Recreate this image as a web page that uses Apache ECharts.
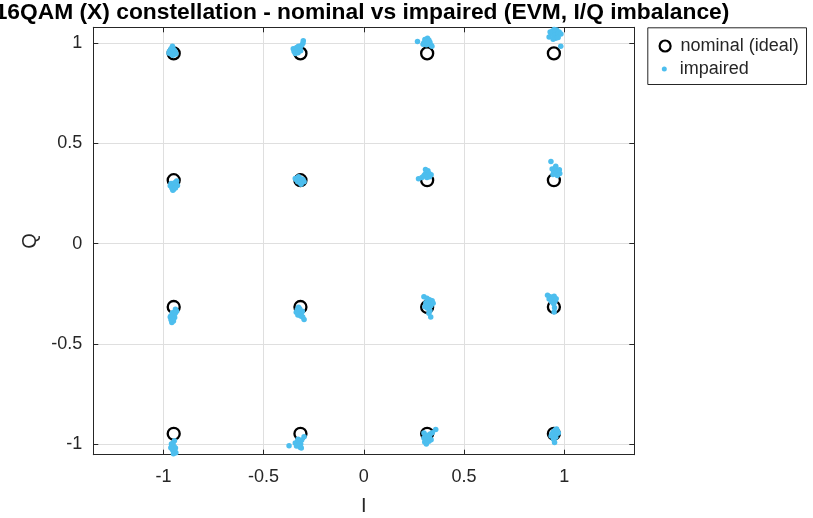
<!DOCTYPE html>
<html><head><meta charset="utf-8">
<script src="https://cdn.jsdelivr.net/npm/echarts@6/dist/echarts.min.js"></script>
<style>html,body{margin:0;padding:0;background:#fff}#c{width:813px;height:518px}</style>
</head><body><div id="c"></div>
<script>
const titleText = '16QAM (X) constellation - nominal vs impaired (EVM, I/Q imbalance)';
const xName = 'I';
const yName = 'Q';
const xTicks = [-1, -0.5, 0, 0.5, 1];
const yTicks = [-1, -0.5, 0, 0.5, 1];
const seriesNames = ['nominal (ideal)', 'impaired'];

const nominal = [
  [-0.9487, 0.9487], [-0.3162, 0.9487], [0.3162, 0.9487], [0.9487, 0.9487],
  [-0.9487, 0.3162], [-0.3162, 0.3162], [0.3162, 0.3162], [0.9487, 0.3162],
  [-0.9487, -0.3162], [-0.3162, -0.3162], [0.3162, -0.3162], [0.9487, -0.3162],
  [-0.9487, -0.9487], [-0.3162, -0.9487], [0.3162, -0.9487], [0.9487, -0.9487]
];

const impairedTop = [
  [-0.965,0.952],[-0.951,0.961],[-0.940,0.955],[-0.958,0.942],[-0.970,0.960],[-0.949,0.968],[-0.955,0.985],[-0.938,0.946],[-0.962,0.972],[-0.953,0.940],[-0.972,0.950],[-0.944,0.962],
  [-0.348,0.958],[-0.338,0.966],[-0.330,0.960],[-0.322,0.970],[-0.352,0.972],[-0.335,0.978],[-0.326,0.985],[-0.318,0.978],[-0.310,0.990],[-0.304,1.000],[-0.302,1.012],[-0.342,0.948],[-0.328,0.952],[-0.315,0.962],
  [0.268,1.008],[0.300,1.002],[0.310,1.012],[0.318,1.025],[0.322,0.998],[0.330,1.005],[0.336,0.990],[0.312,0.992],[0.305,1.018],[0.325,1.015],[0.340,0.984],[0.296,0.995],[0.316,1.000],
  [0.925,1.030],[0.935,1.045],[0.942,1.060],[0.950,1.035],[0.955,1.050],[0.962,1.066],[0.968,1.040],[0.975,1.055],[0.958,1.025],[0.945,1.020],[0.970,1.028],[0.983,0.985],[0.984,1.045],[0.950,1.068],[0.930,1.055]
];
const impairedUpper = [
  [-0.962,0.300],[-0.955,0.290],[-0.946,0.285],[-0.938,0.297],[-0.958,0.278],[-0.950,0.270],[-0.934,0.312],[-0.966,0.288],[-0.944,0.303],[-0.953,0.266],[-0.930,0.290],[-0.940,0.278],
  [-0.338,0.320],[-0.328,0.330],[-0.320,0.315],[-0.310,0.322],[-0.330,0.308],[-0.318,0.303],[-0.303,0.318],[-0.342,0.325],[-0.325,0.334],[-0.298,0.308],[-0.313,0.296],
  [0.273,0.323],[0.290,0.330],[0.305,0.345],[0.312,0.356],[0.320,0.364],[0.326,0.350],[0.336,0.344],[0.318,0.340],[0.308,0.370],[0.328,0.334],[0.300,0.338],[0.315,0.330],
  [0.934,0.409],[0.940,0.372],[0.948,0.360],[0.955,0.376],[0.962,0.355],[0.970,0.362],[0.978,0.350],[0.944,0.345],[0.958,0.386],[0.966,0.340],[0.950,0.350],[0.976,0.368]
];
const impairedLower = [
  [-0.940,-0.328],[-0.955,-0.345],[-0.947,-0.355],[-0.962,-0.360],[-0.944,-0.368],[-0.952,-0.376],[-0.966,-0.366],[-0.950,-0.386],[-0.958,-0.393],[-0.941,-0.348],[-0.934,-0.338],[-0.962,-0.380],
  [-0.326,-0.318],[-0.332,-0.330],[-0.318,-0.335],[-0.311,-0.346],[-0.322,-0.351],[-0.307,-0.338],[-0.329,-0.356],[-0.315,-0.361],[-0.305,-0.366],[-0.298,-0.379],[-0.337,-0.342],[-0.320,-0.325],
  [0.300,-0.265],[0.315,-0.272],[0.328,-0.280],[0.341,-0.285],[0.310,-0.295],[0.322,-0.300],[0.335,-0.310],[0.346,-0.298],[0.305,-0.315],[0.318,-0.322],[0.330,-0.335],[0.325,-0.348],[0.334,-0.366],[0.312,-0.305],
  [0.917,-0.258],[0.930,-0.265],[0.940,-0.270],[0.950,-0.262],[0.945,-0.280],[0.955,-0.286],[0.937,-0.290],[0.960,-0.275],[0.948,-0.300],[0.952,-0.320],[0.950,-0.341],[0.925,-0.276]
];
const impairedBottom = [
  [-0.945,-0.984],[-0.952,-0.995],[-0.958,-1.005],[-0.947,-1.012],[-0.940,-1.020],[-0.955,-1.028],[-0.963,-1.018],[-0.944,-1.035],[-0.938,-1.043],[-0.950,-1.048],[-0.942,-1.056],[-0.960,-1.000],
  [-0.373,-1.008],[-0.342,-0.995],[-0.330,-0.985],[-0.322,-0.990],[-0.315,-1.000],[-0.326,-1.005],[-0.318,-1.016],[-0.310,-0.980],[-0.298,-0.964],[-0.336,-1.010],[-0.312,-1.020],[-0.328,-0.976],
  [0.300,-0.945],[0.310,-0.955],[0.320,-0.960],[0.331,-0.950],[0.359,-0.927],[0.315,-0.975],[0.325,-0.986],[0.304,-0.990],[0.336,-0.978],[0.312,-1.000],[0.328,-0.965],[0.342,-0.944],[0.300,-0.970],
  [0.935,-0.960],[0.945,-0.940],[0.955,-0.930],[0.966,-0.935],[0.960,-0.950],[0.950,-0.955],[0.971,-0.945],[0.939,-0.950],[0.958,-0.966],[0.952,-0.992],[0.962,-0.925],[0.947,-0.976]
];
const impaired = impairedTop.concat(impairedUpper, impairedLower, impairedBottom);

const FONT = "'Liberation Sans', Arial, Helvetica, sans-serif";
const AX = '#262626';
const GRIDC = '#dfdfdf';
const BLUE = '#4DBEEE';

const chart = echarts.init(document.getElementById('c'), null, {renderer: 'canvas'});

function mainAxis(pos, minV, maxV, ticks, extra) {
  return Object.assign({
    type: 'value', position: pos, min: minV, max: maxV,
    axisLine: {show: true, onZero: false, lineStyle: {color: AX, width: 1}},
    axisTick: {show: true, inside: true, length: 5, customValues: ticks, lineStyle: {color: AX, width: 1}},
    axisLabel: {show: true, customValues: ticks, color: AX, fontSize: 18, fontFamily: FONT, margin: 11, showMinLabel: true, showMaxLabel: true},
    splitLine: {show: true, lineStyle: {color: GRIDC, width: 1}}
  }, extra || {});
}
function mirrorAxis(pos, minV, maxV, ticks) {
  return {
    type: 'value', position: pos, min: minV, max: maxV,
    axisLine: {show: true, onZero: false, lineStyle: {color: AX, width: 1}},
    axisTick: {show: true, inside: true, length: 5, customValues: ticks, lineStyle: {color: AX, width: 1}},
    axisLabel: {show: false},
    splitLine: {show: false}
  };
}

const option = {
  backgroundColor: '#fff',
  animation: false,
  grid: {left: 93.3, right: 178.7, top: 27.3, bottom: 63.3, containLabel: false, outerBoundsMode: 'none'},
  xAxis: [
    mainAxis('bottom', -1.35, 1.35, xTicks, {
      name: xName, nameLocation: 'middle', nameGap: 42,
      nameTextStyle: {color: AX, fontSize: 20, fontFamily: FONT},
      axisLabel: {show: true, customValues: xTicks, color: AX, fontSize: 18, fontFamily: FONT, margin: 13}
    }),
    mirrorAxis('top', -1.35, 1.35, xTicks)
  ],
  yAxis: [
    mainAxis('left', -1.053, 1.079, yTicks, {
      name: yName, nameLocation: 'middle', nameGap: 44, nameRotate: 90,
      nameTextStyle: {color: AX, fontSize: 20, fontFamily: FONT}
    }),
    mirrorAxis('right', -1.053, 1.079, yTicks)
  ],
  legend: [
    {
      data: [{name: seriesNames[0], icon: 'circle'}],
      orient: 'vertical', left: 658.5, top: 36, padding: 0,
      itemWidth: 11, itemHeight: 11,
      itemStyle: {color: 'transparent', borderColor: '#000', borderWidth: 2.2},
      textStyle: {color: AX, fontSize: 18, fontFamily: FONT, lineHeight: 20, padding: [0, 0, 0, 5]}
    },
    {
      data: [{name: seriesNames[1], icon: 'circle'}],
      orient: 'vertical', left: 661.8, top: 59, padding: 0,
      itemWidth: 5, itemHeight: 5,
      itemStyle: {color: BLUE, borderWidth: 0},
      textStyle: {color: AX, fontSize: 18, fontFamily: FONT, lineHeight: 20, padding: [0, 0, 0, 8]}
    }
  ],
  graphic: [
    {
      type: 'rect', left: 647.3, top: 27.3, z: -1,
      shape: {width: 158.7, height: 56.7},
      style: {fill: '#fff', stroke: AX, lineWidth: 1}
    },
    {
      type: 'text', x: 362, y: 13, z: 10,
      style: {text: titleText, fill: '#000', font: 'bold 22.8px ' + FONT, textAlign: 'center', textVerticalAlign: 'middle'}
    }
  ],
  series: [
    {
      name: seriesNames[0], type: 'scatter', data: nominal,
      symbol: 'circle', symbolSize: 12, z: 2,
      itemStyle: {color: 'transparent', borderColor: '#000', borderWidth: 2.3, opacity: 1},
      emphasis: {disabled: true}
    },
    {
      name: seriesNames[1], type: 'scatter', data: impaired,
      symbol: 'circle', symbolSize: 5.5, z: 3,
      itemStyle: {color: BLUE, opacity: 1},
      emphasis: {disabled: true}
    }
  ]
};
chart.setOption(option);
</script>
</body></html>
